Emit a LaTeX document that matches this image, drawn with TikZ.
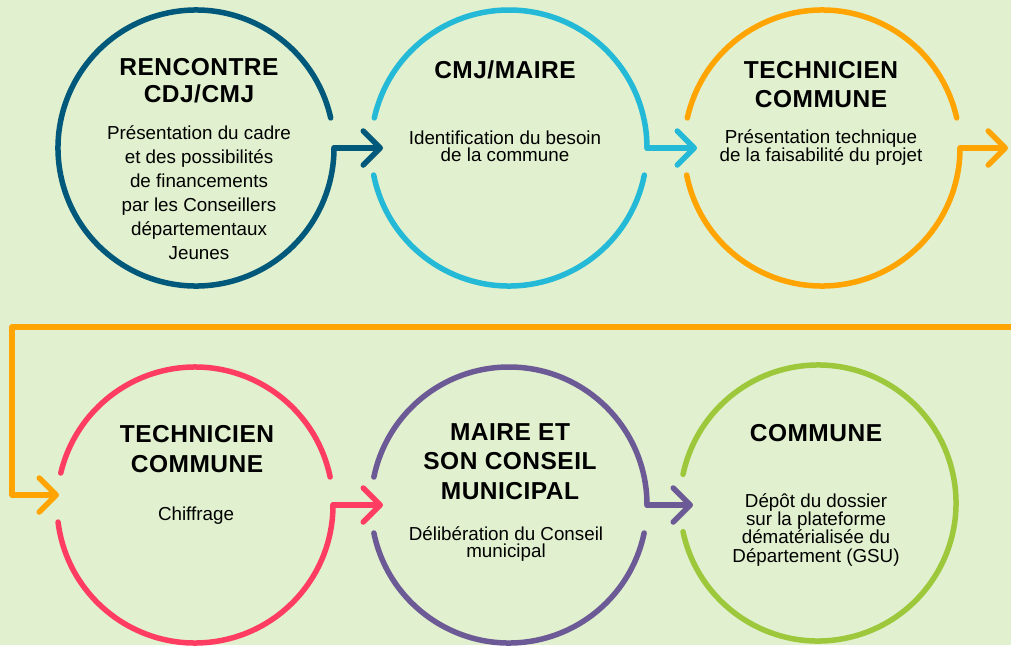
\documentclass[tikz,border=0pt]{standalone}
\usepackage{fontspec}
\setmainfont{Liberation Sans}
\newfontfamily\headfont[LetterSpace=2]{Liberation Sans}
\usetikzlibrary{arrows.meta}
\definecolor{bg}{HTML}{E1F0CE}
\definecolor{cteal}{HTML}{00587A}
\definecolor{ccyan}{HTML}{24BAD7}
\definecolor{corange}{HTML}{FFA400}
\definecolor{cpink}{HTML}{FF3D62}
\definecolor{cpurple}{HTML}{6C5A96}
\definecolor{cgreen}{HTML}{9DC83B}
\tikzset{
  stage/.style={circle, minimum size=276pt, inner sep=0pt, outer sep=0pt},
  ring/.style={draw=#1, line width=5.5pt, line cap=round},
  conn/.style={draw=#1, line width=5.5pt, line cap=round, line join=round,
    -{Straight Barb[length=17pt,width=34pt,round]}},
  head/.style={font=\headfont\bfseries\fontsize{24.5}{#1}\selectfont, align=center, inner sep=0pt, anchor=base},
  head/.default=29,
  body/.style={font=\fontsize{18.8}{#1}\selectfont, align=center, inner sep=0pt, anchor=base},
  body/.default=18.3
}
\begin{document}
\begin{tikzpicture}[x=1pt,y=-1pt]
\fill[bg] (0,0) rectangle (1011,645);
\useasboundingbox (0,0) rectangle (1011,645);

% stage nodes
\node[stage] (c1) at (196,148) {};
\node[stage] (c2) at (509,148) {};
\node[stage] (c3) at (822,148) {};
\node[stage] (c4) at (195,505) {};
\node[stage] (c5) at (509,505) {};
\node[stage] (c6) at (818,503) {};

% rings
\draw[ring=cteal] (c1.center) ++(12.6:138pt) arc[start angle=12.6, end angle=360, radius=138pt];
\draw[ring=ccyan] (c2.center) ++(0:138pt) arc[start angle=0, end angle=167.4, radius=138pt];
\draw[ring=ccyan] (c2.center) ++(191.3:138pt) arc[start angle=191.3, end angle=348.7, radius=138pt];
\draw[ring=corange] (c3.center) ++(12.6:138pt) arc[start angle=12.6, end angle=167.4, radius=138pt];
\draw[ring=corange] (c3.center) ++(191.3:138pt) arc[start angle=191.3, end angle=360, radius=138pt];
\draw[ring=cpink] (c4.center) ++(11.7:138pt) arc[start angle=11.7, end angle=166.6, radius=138pt];
\draw[ring=cpink] (c4.center) ++(187.1:138pt) arc[start angle=187.1, end angle=360, radius=138pt];
\draw[ring=cpurple] (c5.center) ++(0:138pt) arc[start angle=0, end angle=168.3, radius=138pt];
\draw[ring=cpurple] (c5.center) ++(191.7:138pt) arc[start angle=191.7, end angle=348.3, radius=138pt];
\draw[ring=cgreen] (c6.center) ++(192:138pt) arc[start angle=192, end angle=528, radius=138pt];

% connector end points
\coordinate (t2) at ([xshift=12pt]c2.west);
\coordinate (t3) at ([xshift=13pt]c3.west);
\coordinate (tout) at (1008,148);
\coordinate (oin) at (1011,327);
\coordinate (obend) at (12,327);
\coordinate (t4) at ([xshift=2pt,yshift=10pt]c4.west);
\coordinate (t5) at ([xshift=12pt]c5.west);
\coordinate (t6) at ([xshift=13pt]c6.west |- c5.east);

% connectors
\draw[conn=cteal] (c1.east) -- (t2);
\draw[conn=ccyan] (c2.east) -- (t3);
\draw[conn=corange] (c3.east) -- (tout);
\draw[conn=corange] (oin) -- (obend) |- (t4);
\draw[conn=cpink] (c4.east) -- (t5);
\draw[conn=cpurple] (c5.east) -- (t6);

% texts (anchor = baseline of the last line)
\node[head=27.5] (h1) at (199,102.5) {RENCONTRE\\CDJ/CMJ};
\node[body=24] (b1) at (199,259) {Présentation du cadre\\et des possibilités\\de financements\\par les Conseillers\\départementaux\\Jeunes};
\node[head] (h2) at (505,78) {CMJ/MAIRE};
\node[body=17.8] (b2) at (505,161.8) {Identification du besoin\\de la commune};
\node[head=29] (h3) at (821,107) {TECHNICIEN\\COMMUNE};
\node[body=18] (b3) at (821,161) {Présentation technique\\de la faisabilité du projet};
\node[head=30] (h4) at (197,472) {TECHNICIEN\\COMMUNE};
\node[body] (b4) at (196,520) {Chiffrage};
\node[head=29.5] (h5) at (510,499) {MAIRE ET\\SON CONSEIL\\MUNICIPAL};
\node[body=17.5] (b5) at (506,557.5) {Délibération du Conseil\\municipal};
\node[head] (h6) at (816,441) {COMMUNE};
\node[body=18.3] (b6) at (816,562) {Dépôt du dossier\\sur la plateforme\\dématérialisée du\\Département (GSU)};
\end{tikzpicture}
\end{document}
